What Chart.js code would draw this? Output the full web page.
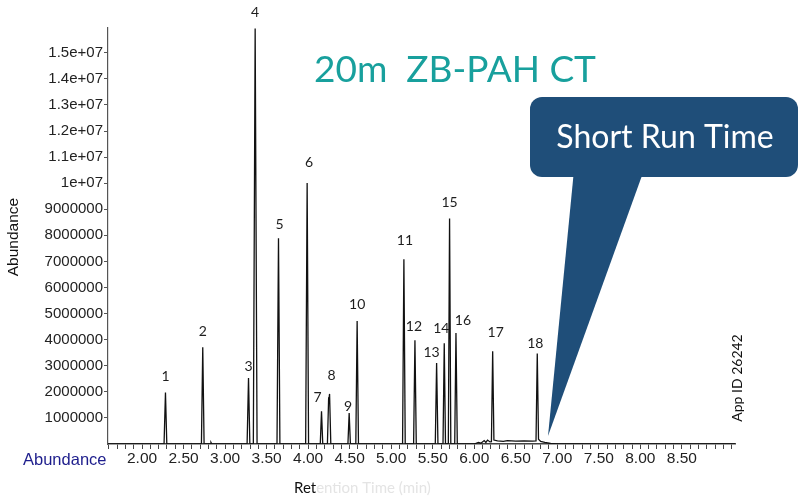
<!DOCTYPE html>
<html>
<head>
<meta charset="utf-8">
<script src="https://cdn.jsdelivr.net/npm/chart.js@4.4.1/dist/chart.umd.min.js"></script>
<style>
  body { margin: 0; background: #fff; }
  #wrap { width: 799px; height: 497px; position: relative; }
</style>
</head>
<body>
<div id="wrap"><canvas id="chromChart"></canvas></div>
<script>
// chromatogram trace (minutes, abundance)
const traceTime = [
  1.59, 2.265, 2.282, 2.298, 2.715, 2.731, 2.747, 2.82, 2.83, 2.84,
  3.265, 3.282, 3.298, 3.340, 3.362, 3.385, 3.625, 3.643, 3.660,
  3.970, 3.988, 4.005, 4.146, 4.161, 4.176, 4.232, 4.247, 4.251, 4.258, 4.273,
  4.479, 4.494, 4.509, 4.574, 4.590, 4.606,
  5.137, 5.153, 5.169, 5.270, 5.286, 5.302, 5.531, 5.547, 5.563,
  5.624, 5.639, 5.654, 5.688, 5.703, 5.718, 5.765, 5.780, 5.796,
  6.00, 6.05, 6.08, 6.12, 6.14, 6.16, 6.19, 6.207, 6.222, 6.237,
  6.28, 6.35, 6.40, 6.50, 6.60, 6.70, 6.744, 6.759, 6.774,
  6.80, 6.85, 6.92, 7.00, 9.14
];
const traceAbund = [
  0, 0, 1970000, 0, 0, 3710000, 0, 0, 60000, 0,
  0, 2530000, 0, 0, 15930000, 0, 0, 7890000, 0,
  0, 10010000, 0, 0, 1250000, 0, 0, 1790000, 1700000, 1920000, 0,
  0, 1190000, 0, 0, 4720000, 0,
  0, 7080000, 0, 0, 3980000, 0, 0, 3110000, 0,
  0, 3860000, 0, 0, 8650000, 0, 0, 4260000, 0,
  0, 60000, 30000, 130000, 60000, 150000, 80000, 90000, 3560000, 150000,
  120000, 100000, 130000, 110000, 120000, 110000, 120000, 3470000, 180000,
  100000, 60000, 20000, 0, 0
];

// numbered peaks
const peakLabels = ['1','2','3','4','5','6','7','8','9','10','11','12','13','14','15','16','17','18'];
const peakTimes  = [2.282, 2.731, 3.282, 3.362, 3.643, 3.988, 4.161, 4.258, 4.494, 4.590,
                    5.153, 5.286, 5.547, 5.639, 5.703, 5.780, 6.222, 6.759];
const peakAbund  = [1970000, 3710000, 2530000, 15930000, 7890000, 10010000, 1250000, 1920000, 1190000, 4720000,
                    7080000, 3980000, 3110000, 3860000, 8650000, 4260000, 3560000, 3470000];

// axis ticks
const yTicks = [1000000, 2000000, 3000000, 4000000, 5000000, 6000000, 7000000, 8000000,
                9000000, 10000000, 11000000, 12000000, 13000000, 14000000, 15000000];
const yTickLabels = ['1000000', '2000000', '3000000', '4000000', '5000000', '6000000', '7000000', '8000000',
                     '9000000', '1e+07', '1.1e+07', '1.2e+07', '1.3e+07', '1.4e+07', '1.5e+07'];
const xTickLabels = ['2.00', '2.50', '3.00', '3.50', '4.00', '4.50', '5.00', '5.50',
                     '6.00', '6.50', '7.00', '7.50', '8.00', '8.50'];

const xMin = 1.59, xMax = 9.14;
const yMax = 15950000;

// label nudges (px) so numbers sit where the original put them
const labelDx = [0,0,0,0,1,2,-4,2,-1,0, 1,-1,-5,-3,0,7,3,-2];
const labelDy = [16,16,12,16,14,20,14,18,6,16, 19,14,10,15,16,12,19,10];

const overlay = {
  id: 'overlay',
  afterDraw(chart) {
    const ctx = chart.ctx;
    const xs = chart.scales.x, ys = chart.scales.y;
    ctx.save();

    // peak numbers
    ctx.fillStyle = '#1e1e1e';
    ctx.font = '14px Lato';
    ctx.textAlign = 'center';
    ctx.textBaseline = 'middle';
    for (let i = 0; i < peakLabels.length; i++) {
      const px = xs.getPixelForValue(peakTimes[i]) + labelDx[i];
      const py = ys.getPixelForValue(peakAbund[i]) - labelDy[i];
      ctx.fillText(peakLabels[i], px, py);
    }

    // title
    ctx.fillStyle = '#18a09d';
    ctx.font = '37px Lato';
    ctx.textAlign = 'center';
    ctx.textBaseline = 'alphabetic';
    ctx.fillText('20m  ZB-PAH CT', 455, 82);

    // callout
    ctx.fillStyle = '#1f4e79';
    ctx.beginPath();
    ctx.roundRect(530, 97, 268, 80, 12);
    ctx.fill();
    ctx.beginPath();
    ctx.moveTo(574, 170);
    ctx.lineTo(644, 170);
    ctx.lineTo(548, 436);
    ctx.closePath();
    ctx.fill();
    ctx.fillStyle = '#ffffff';
    ctx.font = '32px Lato';
    ctx.textBaseline = 'middle';
    ctx.fillText('Short Run Time', 665, 138);

    // axis captions
    ctx.fillStyle = '#111';
    ctx.font = '15.5px "Liberation Sans"';
    ctx.save();
    ctx.translate(14, 237);
    ctx.rotate(-Math.PI / 2);
    ctx.fillText('Abundance', 0, 0);
    ctx.restore();

    ctx.fillStyle = '#1d1d8c';
    ctx.font = '16.5px "Liberation Sans"';
    ctx.textAlign = 'left';
    ctx.fillText('Abundance', 23, 460);

    ctx.fillStyle = '#111';
    ctx.font = '14px Lato';
    ctx.save();
    ctx.translate(737, 378);
    ctx.rotate(-Math.PI / 2);
    ctx.textAlign = 'center';
    ctx.fillText('App ID 26242', 0, 0);
    ctx.restore();

    ctx.textAlign = 'left';
    ctx.font = '15px Lato';
    ctx.fillText('Ret', 294, 488);
    const w = ctx.measureText('Ret').width;
    ctx.fillStyle = '#e4e4e4';
    ctx.fillText('ention Time (min)', 294 + w, 488);

    ctx.restore();
  }
};

new Chart(document.getElementById('chromChart'), {
  type: 'line',
  data: {
    datasets: [{
      data: traceTime.map((t, i) => ({ x: t, y: traceAbund[i] })),
      borderColor: '#111',
      borderWidth: 1.3,
      pointRadius: 0,
      tension: 0,
      fill: false
    }]
  },
  options: {
    responsive: true,
    maintainAspectRatio: false,
    animation: false,
    layout: { padding: { top: 28, right: 64, left: 0, bottom: 0 } },
    plugins: { legend: { display: false }, tooltip: { enabled: false } },
    scales: {
      x: {
        type: 'linear',
        min: xMin,
        max: xMax,
        afterFit(scale) { scale.height = 53; },
        border: { color: '#444', width: 1.5 },
        grid: { drawOnChartArea: false, drawTicks: true, tickLength: 5, tickColor: '#444' },
        ticks: {
          stepSize: 0.1,
          includeBounds: false,
          autoSkip: false,
          maxRotation: 0,
          padding: 0,
          color: '#222',
          font: { family: 'Liberation Sans', size: 15.5 },
          callback(v) {
            const k = Math.round(v * 10);
            if (k % 5 !== 0) return '';
            const s = (k / 10).toFixed(2);
            return xTickLabels.includes(s) ? s : '';
          }
        }
      },
      y: {
        min: 0,
        max: yMax,
        afterFit(scale) { scale.width = 108; },
        afterBuildTicks(scale) { scale.ticks = yTicks.map(v => ({ value: v })); },
        border: { color: '#555', width: 1.2 },
        grid: { drawOnChartArea: false, drawTicks: true, tickLength: 4, tickColor: '#555' },
        ticks: {
          autoSkip: false,
          padding: 1,
          color: '#222',
          font: { family: 'Liberation Sans', size: 15 },
          callback(v) {
            const i = yTicks.indexOf(v);
            return i >= 0 ? yTickLabels[i] : '';
          }
        }
      }
    }
  },
  plugins: [overlay]
});
</script>
</body>
</html>
